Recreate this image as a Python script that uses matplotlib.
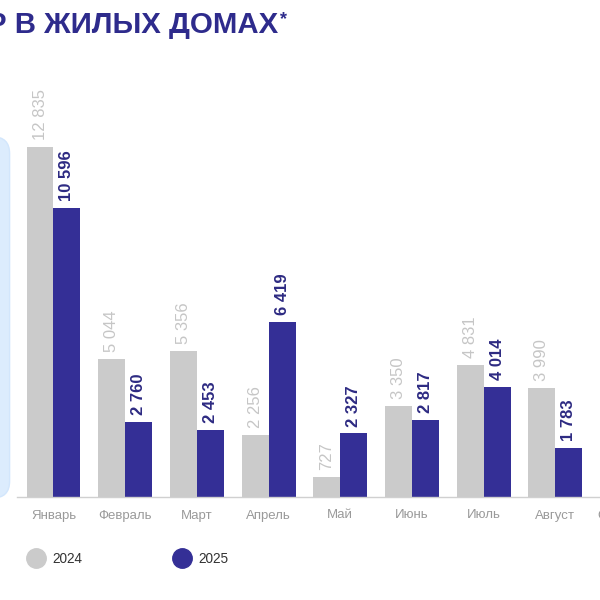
import matplotlib.pyplot as plt
from matplotlib.lines import Line2D
from matplotlib.patches import FancyBboxPatch

plt.rcParams['font.family'] = ['Liberation Sans', 'DejaVu Sans']

months = ['Январь', 'Февраль', 'Март', 'Апрель', 'Май', 'Июнь', 'Июль', 'Август']
next_month = 'Сентябрь'
v2024 = [12835, 5044, 5356, 2256, 727, 3350, 4831, 3990]
v2025 = [10596, 2760, 2453, 6419, 2327, 2817, 4014, 1783]

gray = '#cbcbcb'
blue = '#342f96'
title_blue = '#2e2b8c'

fig = plt.figure(figsize=(6, 6), dpi=100)

# light blue panel sticking out from the left edge
panel = FancyBboxPatch((-0.05, 0.17), 0.066, 0.602, boxstyle='round,pad=0,rounding_size=0.028',
                       transform=fig.transFigure, facecolor='#dcecfd', edgecolor='#d2e6fc', lw=1)
fig.add_artist(panel)

ax = fig.add_axes([17 / 600, 103 / 600, 583 / 600, 497 / 600])
ax.patch.set_alpha(0)

x = list(range(len(months)))
w = 0.376
b1 = ax.bar([i - w / 2 for i in x], v2024, width=w, color=gray, label='2024')
b2 = ax.bar([i + w / 2 for i in x], v2025, width=w, color=blue, label='2025')

fmt = lambda v: f'{v:,.0f}'.replace(',', ' ')
ax.bar_label(b1, labels=[fmt(v) for v in v2024], rotation=90, padding=5,
             fontsize=12, color='#c6c6c6')
ax.bar_label(b2, labels=[fmt(v) for v in v2025], rotation=90, padding=5,
             fontsize=12, color='#2d2a82', fontweight='bold')

ax.set_xlim(-0.509, 7.622)
ax.set_ylim(0, 497 / 0.0273)
ax.set_xticks(x)
ax.set_xticklabels(months, fontsize=9.5, color='#9a9a9a')
ax.tick_params(axis='x', length=0, pad=9)
ax.set_yticks([])
for s in ['top', 'right', 'left']:
    ax.spines[s].set_visible(False)
ax.spines['bottom'].set_color('#d0d0d0')
ax.spines['bottom'].set_linewidth(1)

# month that runs off the right edge
ax.annotate(next_month, xy=(8, 0), xycoords=('data', 'axes fraction'), xytext=(0, -9),
            textcoords='offset points', ha='center', va='top', fontsize=9.5,
            color='#9a9a9a', annotation_clip=False)

# title, cut off on the left
fig.text(278 / 600, 1 - 33 / 600, 'Р В ЖИЛЫХ ДОМАХ', ha='right', va='baseline',
         fontsize=21.2, fontweight='bold', color=title_blue)
fig.text(280 / 600, 1 - 11 / 600, '*', ha='left', va='top',
         fontsize=13, fontweight='bold', color=title_blue)

handles = [Line2D([], [], marker='o', ls='', markersize=14, color=gray),
           Line2D([], [], marker='o', ls='', markersize=14, color=blue)]
fig.legend(handles, ['2024', '2025'], loc='center left', bbox_to_anchor=(29 / 600, 1 - 559 / 600),
           ncol=2, frameon=False, handlelength=1, handletextpad=0.72, columnspacing=6.8,
           borderpad=0, borderaxespad=0, fontsize=9.8, labelcolor='#333333')

fig.savefig('out.png', dpi=100)
